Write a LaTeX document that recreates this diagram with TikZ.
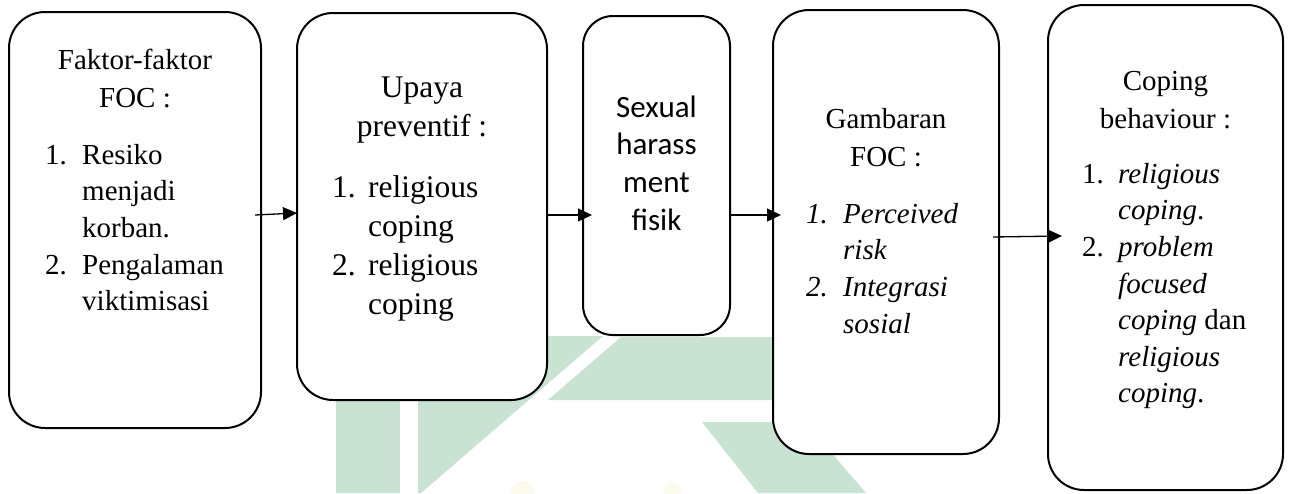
\documentclass[tikz,border=0pt]{standalone}
\usepackage{fontspec}
\setmainfont{Liberation Serif}
\newfontfamily\calibri{Carlito}
\usetikzlibrary{arrows.meta,calc}
\definecolor{wmgreen}{RGB}{200,227,210}
\definecolor{wmyellow}{RGB}{252,250,236}

\begin{document}
\begin{tikzpicture}[x=1pt,y=-1pt,
  box/.style={rectangle, draw, line width=2pt, fill=white, rounded corners=36pt, inner sep=0pt},
  arr/.style={line width=1.3pt, -{Triangle[length=14pt,width=13pt]}},
  ttl/.style={inner sep=0pt, anchor=north, align=center, font=\fontsize{29}{38.5}\selectfont},
  lst/.style={inner sep=0pt, anchor=north west, align=left, font=\fontsize{29}{36.6}\selectfont},
  wm/.style={fill=wmgreen, draw=none}
]
\useasboundingbox (0,0) rectangle (1291,493);
\fill[white] (0,0) rectangle (1291,493);

% faint logo in the background
\fill[wm] (336,380) -- (400,380) -- (400,493) -- (336,493) -- cycle;
\fill[wm] (418,336) -- (603,336) -- (421,493) -- (418,493) -- cycle;
\fill[wm] (621,337) -- (900,337) -- (900,400) -- (548,400) -- cycle;
\fill[wm] (702,422) -- (805,422) -- (866,493) -- (758,493) -- cycle;
\fill[wmyellow] (523,493) ellipse (12 and 12);
\fill[wmyellow] (673,493) ellipse (9 and 11);

% boxes
\node[box, minimum width=252pt, minimum height=416pt] (b1) at (135,220) {};
\node[box, minimum width=250pt, minimum height=387pt] (b2) at (422,206.5) {};
\node[box, rounded corners=30pt, minimum width=147pt, minimum height=319pt] (b3) at (656.5,175.5) {};
\node[box, minimum width=226pt, minimum height=444pt] (b4) at (886,232) {};
\node[box, minimum width=235pt, minimum height=485pt] (b5) at (1165.5,247.5) {};

% box 1
\node[ttl] (t1) at (135,44) {\rule{0pt}{25pt}Faktor-faktor\\FOC :};
\node[lst] (l1) at (45,139) {\rule{0pt}{25pt}\makebox[37pt][l]{1.}Resiko\\
  \hspace*{37pt}menjadi\\
  \hspace*{37pt}korban.\\
  \makebox[37pt][l]{2.}Pengalaman\\
  \hspace*{37pt}viktimisasi};

% box 2
\node[ttl, font=\fontsize{31.5}{39}\selectfont] (t2) at (422,72) {\rule{0pt}{25pt}Upaya\\preventif :};
\node[lst, font=\fontsize{31.5}{39}\selectfont] (l2) at (332,172) {\rule{0pt}{25pt}\makebox[36pt][l]{1.}religious\\
  \hspace*{36pt}coping\\
  \makebox[36pt][l]{2.}religious\\
  \hspace*{36pt}coping};

% box 3
\node[ttl, font=\calibri\fontsize{31}{37.7}\selectfont] (t3) at (656.5,92) {\rule{0pt}{25pt}Sexual\\harass\\ment\\fisik};

% box 4
\node[ttl] (t4) at (886,103) {\rule{0pt}{25pt}Gambaran\\FOC :};
\node[lst, font=\fontsize{29}{36.6}\selectfont\itshape] (l4) at (806,198) {\rule{0pt}{25pt}\makebox[37pt][l]{1.}Perceived\\
  \hspace*{37pt}risk\\
  \makebox[37pt][l]{2.}Integrasi\\
  \hspace*{37pt}sosial};

% box 5
\node[ttl] (t5) at (1165.5,65) {\rule{0pt}{25pt}Coping\\behaviour :};
\node[lst] (l5) at (1082,158) {\rule{0pt}{25pt}\makebox[36pt][l]{1.}\textit{religious}\\
  \hspace*{36pt}\textit{coping}.\\
  \makebox[36pt][l]{2.}\textit{problem}\\
  \hspace*{36pt}\textit{focused}\\
  \hspace*{36pt}\textit{coping} dan\\
  \hspace*{36pt}\textit{religious}\\
  \hspace*{36pt}\textit{coping}.};

% connectors
\coordinate (s1) at (255,215);
\coordinate (s4) at ($(b4.east)+(-7,5)$);
\draw[arr] (s1) -- ($(b2.west)+(1,6.5)$);
\draw[arr] ($(b2.east)+(0,8.5)$) -- ($(b3.west)+(10,39.5)$);
\draw[arr] ($(b3.east)+(0,39.5)$) -- ($(b4.west)+(9,-17)$);
\draw[arr] (s4) -- ($(b5.west)+(15,-11.5)$);
\end{tikzpicture}
\end{document}
